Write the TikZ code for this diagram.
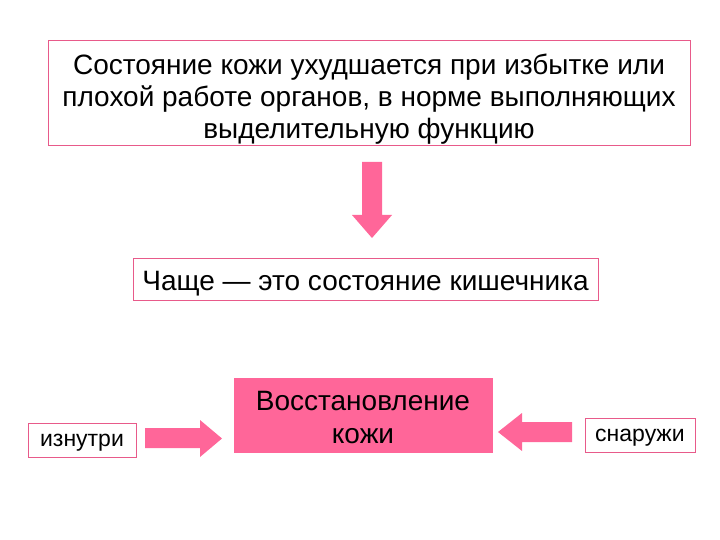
\documentclass[tikz,border=0pt]{standalone}
\usepackage{fontspec}
\setmainfont{Liberation Sans}
\definecolor{pk}{HTML}{FF6699}
\definecolor{pkb}{HTML}{E85A8A}
\begin{document}
\begin{tikzpicture}[x=1pt,y=-1pt,
  box/.style={draw=pkb,line width=0.8pt,fill=white,inner sep=0pt},
  txt/.style={inner sep=0pt,align=center},
  arr/.style={fill=pk,draw=none}]
\useasboundingbox (0,0) rectangle (720,540);
\node[box,minimum width=642pt,minimum height=105pt] (top) at (369,92.5) {};
\node[txt,font=\fontsize{28}{32}\selectfont] (toptext) at ([yshift=-7pt]top.center)
  {Состояние кожи ухудшается при избытке или\\плохой работе органов, в норме выполняющих\\выделительную функцию};
\node[box,minimum width=465pt,minimum height=42pt] (mid) at (365.5,279) {};
\node[txt,font=\fontsize{28}{32}\selectfont] (midtext) at ([yshift=-5pt]mid.center) {Чаще — это состояние кишечника};
\node[box,fill=pk,draw=pk,minimum width=258pt,minimum height=74pt] (rec) at (363,415) {};
\node[txt,font=\fontsize{28}{33}\selectfont] (rectext) at ([yshift=-3pt]rec.center) {Восстановление\\кожи};
\node[box,minimum width=108pt,minimum height=34pt] (in) at (82,440) {};
\node[txt,font=\fontsize{23}{26}\selectfont] (intext) at ([yshift=-3pt]in.center) {изнутри};
\node[box,minimum width=110pt,minimum height=34pt] (out) at (640,435) {};
\node[txt,font=\fontsize{23}{26}\selectfont] (outtext) at ([yshift=-3pt]out.center) {снаружи};
\fill[arr] (362,162) -- (382,162) -- (382,215) -- (392,215) -- (372,238) -- (352,215) -- (362,215) -- cycle;
\fill[arr] (145,428) -- (200,428) -- (200,420) -- (222,438.5) -- (200,457) -- (200,448) -- (145,448) -- cycle;
\fill[arr] (572,422) -- (522,422) -- (522,413) -- (498,432) -- (522,451) -- (522,442) -- (572,442) -- cycle;
\end{tikzpicture}
\end{document}
